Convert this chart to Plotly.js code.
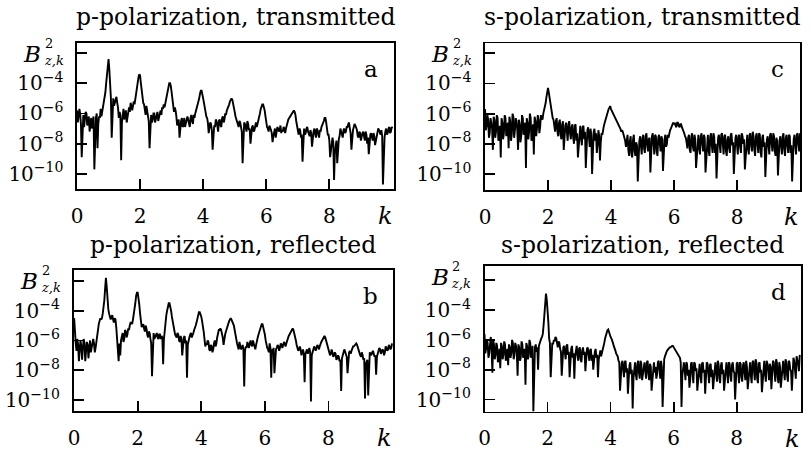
<!DOCTYPE html>
<html>
<head>
<meta charset="utf-8">
<script src="https://cdn.plot.ly/plotly-3.0.1.min.js"></script>
<style>
  html, body { margin: 0; padding: 0; background: #fff; }
  #chart { width: 811px; height: 456px; }
</style>
</head>
<body>
<div id="chart"></div>
<script>
// Spectra B^2_{z,k}, stored as decimal exponents (log10 of B^2).
// "...Exp" arrays hold the samples at k = 0, 0.05, …, 10;
// "...MidExp" arrays hold the samples in between, at k = 0.025, 0.075, …, 9.975.
const kStep = 0.05;

const pTransmittedExp = [
  -5.8,-6.2,-6.0,-8.9,-6.1,-6.4,-6.0,-6.5,-7.2,-6.3,
  -6.6,-9.7,-6.3,-8.3,-6.2,-5.7,-5.9,-5.4,-4.6,-3.3,
  -2.4,-4.2,-7.6,-5.0,-5.3,-4.9,-5.6,-5.9,-9.1,-6.0,
  -6.4,-5.8,-6.3,-5.6,-5.3,-5.8,-5.2,-5.0,-4.4,-3.6,
  -3.5,-4.6,-5.3,-5.8,-5.5,-6.2,-8.3,-6.1,-6.4,-6.0,
  -6.3,-5.9,-6.2,-5.8,-5.6,-5.4,-5.3,-4.9,-4.2,-4.0,
  -4.6,-5.4,-5.6,-6.2,-6.6,-7.6,-6.5,-6.9,-6.3,-6.6,
  -6.2,-6.7,-6.3,-6.5,-6.1,-6.0,-5.7,-5.3,-4.7,-4.5,
  -5.0,-5.6,-6.2,-6.6,-7.0,-6.7,-8.4,-6.8,-6.4,-6.9,
  -6.5,-6.8,-6.3,-6.6,-6.0,-5.8,-5.5,-5.2,-5.0,-5.3,
  -5.9,-6.4,-6.8,-6.5,-6.9,-9.3,-6.6,-7.0,-6.5,-7.1,
  -8.0,-6.9,-7.2,-6.7,-6.9,-6.4,-6.0,-5.5,-5.4,-5.8,
  -6.6,-7.0,-6.8,-7.1,-7.9,-7.2,-7.6,-6.9,-7.2,-6.8,
  -7.1,-6.9,-7.3,-6.7,-6.4,-6.2,-6.0,-5.8,-5.9,-6.5,
  -7.2,-7.0,-7.6,-9.2,-7.0,-7.3,-6.9,-7.4,-7.1,-8.2,
  -7.2,-7.5,-7.0,-7.4,-7.1,-6.9,-6.7,-6.3,-6.6,-7.4,
  -7.8,-8.4,-7.6,-10.4,-8.0,-9.3,-7.7,-7.0,-7.4,-7.1,
  -7.3,-6.9,-6.7,-7.0,-8.4,-7.1,-6.7,-7.0,-7.5,-7.2,
  -7.8,-7.3,-7.6,-7.2,-8.0,-8.7,-7.4,-7.7,-7.3,-8.1,
  -7.4,-7.0,-7.3,-7.1,-10.7,-7.6,-7.0,-7.3,-6.9,-7.2,
  -7.0
];
const pTransmittedMidExp = [
  -6.6,-5.7,-6.7,-6.5,-6.9,-5.9,-6.8,-6.2,-6.7,-7.0,
  -6.2,-6.9,-6.0,-6.7,-6.3,-6.2,-5.6,-5.1,-4.0,-2.8,
  -3.1,-5.0,-5.4,-5.5,-5.0,-5.3,-6.3,-6.1,-6.6,-5.7,
  -6.0,-6.6,-5.9,-5.9,-5.5,-5.5,-5.4,-4.8,-4.0,-3.4,
  -4.0,-5.0,-5.4,-6.1,-5.8,-6.5,-6.6,-6.6,-6.0,-6.6,
  -6.0,-6.5,-5.9,-6.1,-5.7,-5.6,-5.0,-4.6,-4.0,-4.2,
  -5.0,-5.9,-5.8,-6.8,-6.4,-6.9,-6.3,-6.8,-6.9,-6.4,
  -6.4,-6.9,-6.1,-6.7,-6.3,-5.8,-5.5,-5.0,-4.5,-4.7,
  -5.3,-6.0,-6.3,-7.3,-6.6,-7.1,-7.2,-6.9,-6.5,-7.2,
  -6.4,-6.9,-6.2,-6.4,-6.1,-5.7,-5.4,-5.1,-5.1,-5.6,
  -6.2,-6.5,-6.9,-6.6,-7.2,-6.9,-6.7,-7.2,-6.7,-7.0,
  -7.3,-6.8,-7.1,-6.6,-6.7,-6.2,-5.7,-5.4,-5.6,-6.2,
  -6.9,-7.2,-6.9,-7.3,-7.5,-7.0,-7.3,-7.0,-7.1,-7.3,
  -7.2,-7.0,-7.0,-6.6,-6.3,-6.1,-5.9,-5.8,-6.1,-6.9,
  -7.4,-7.1,-7.4,-7.5,-7.4,-7.0,-7.2,-7.5,-7.3,-7.6,
  -7.0,-7.6,-7.1,-7.6,-7.2,-6.8,-6.5,-6.3,-7.0,-7.4,
  -8.9,-7.9,-7.9,-8.6,-7.8,-8.2,-7.5,-7.2,-7.6,-7.0,
  -7.2,-6.9,-6.6,-7.3,-7.6,-6.9,-6.8,-7.1,-7.6,-7.3,
  -7.5,-7.2,-7.8,-7.4,-7.6,-7.9,-7.3,-7.8,-7.5,-7.8,
  -7.3,-7.1,-7.4,-7.5,-7.9,-7.2,-7.4,-7.0,-7.3,-6.9
];

const pReflectedExp = [
  -4.5,-6.2,-5.9,-7.4,-6.0,-7.3,-5.9,-7.4,-6.1,-7.2,
  -6.0,-6.5,-5.9,-6.8,-6.0,-5.0,-4.7,-4.6,-4.2,-3.3,
  -1.8,-3.3,-4.2,-4.6,-4.3,-4.8,-4.6,-5.9,-7.4,-7.0,
  -5.6,-6.1,-5.3,-5.8,-5.2,-5.0,-4.8,-4.6,-4.0,-3.0,
  -2.8,-3.6,-4.8,-5.0,-5.2,-5.0,-5.6,-5.4,-5.9,-8.4,
  -5.5,-5.8,-5.5,-5.9,-5.6,-5.7,-7.6,-5.2,-4.3,-3.7,
  -3.5,-4.0,-4.8,-5.3,-5.7,-5.5,-6.0,-5.7,-7.0,-5.8,
  -6.2,-8.5,-5.9,-5.6,-5.8,-5.5,-5.2,-4.8,-4.3,-4.1,
  -4.4,-5.0,-5.9,-6.2,-6.0,-6.6,-6.3,-6.8,-6.2,-6.4,
  -5.8,-5.3,-5.2,-5.5,-6.3,-5.6,-5.2,-4.9,-4.6,-4.6,
  -4.8,-5.3,-6.0,-6.4,-6.1,-6.6,-6.3,-9.1,-6.4,-6.1,
  -6.5,-6.0,-6.4,-6.2,-6.6,-5.9,-5.6,-5.2,-4.9,-5.1,
  -5.6,-6.3,-6.6,-6.2,-8.5,-6.8,-8.2,-6.6,-6.3,-6.7,
  -6.2,-6.5,-6.1,-6.4,-6.0,-5.7,-5.5,-5.3,-5.3,-5.7,
  -6.3,-6.7,-6.4,-7.0,-6.6,-8.8,-6.7,-6.9,-6.5,-10.1,
  -6.8,-6.4,-6.7,-6.3,-6.6,-6.2,-6.0,-5.8,-5.8,-6.2,
  -6.7,-7.0,-6.6,-7.1,-6.8,-7.3,-7.0,-7.4,-9.4,-6.9,
  -6.6,-7.0,-8.2,-6.8,-6.9,-6.5,-6.4,-6.2,-6.3,-6.7,
  -7.0,-6.8,-7.3,-9.9,-7.4,-9.7,-6.8,-7.0,-6.7,-7.1,
  -8.3,-6.8,-6.5,-6.9,-6.6,-7.0,-6.4,-6.7,-6.3,-6.6,
  -6.2
];
const pReflectedMidExp = [
  -5.6,-6.7,-6.3,-6.6,-6.4,-6.5,-6.2,-6.7,-6.3,-6.6,
  -6.8,-6.1,-6.2,-6.5,-5.5,-4.9,-4.5,-4.5,-3.8,-2.5,
  -2.4,-3.9,-4.5,-4.4,-4.6,-4.5,-5.1,-6.3,-6.2,-6.0,
  -5.5,-5.9,-5.4,-5.6,-5.3,-4.8,-4.9,-4.3,-3.5,-2.8,
  -3.1,-4.2,-5.1,-4.9,-5.4,-5.2,-5.8,-5.5,-6.2,-6.0,
  -5.9,-5.6,-5.8,-5.6,-5.9,-5.8,-5.9,-4.8,-4.0,-3.5,
  -3.7,-4.4,-5.0,-5.6,-5.8,-5.6,-6.1,-5.9,-6.1,-5.7,
  -6.0,-6.3,-5.8,-5.5,-5.7,-5.3,-5.0,-4.5,-4.1,-4.2,
  -4.7,-5.4,-6.4,-6.3,-6.1,-6.7,-6.4,-6.6,-6.0,-6.2,
  -5.5,-5.3,-5.3,-5.8,-5.8,-5.4,-5.0,-4.7,-4.5,-4.7,
  -5.0,-5.7,-6.2,-6.6,-6.3,-6.5,-6.6,-6.7,-6.5,-6.3,
  -6.2,-6.3,-6.0,-6.4,-6.3,-5.8,-5.4,-5.0,-4.9,-5.3,
  -6.0,-6.5,-6.8,-6.5,-6.6,-6.5,-6.8,-6.5,-6.4,-6.5,
  -6.3,-6.3,-6.2,-6.2,-5.9,-5.6,-5.4,-5.2,-5.5,-6.0,
  -6.5,-6.6,-6.6,-6.8,-6.9,-6.9,-6.6,-6.7,-6.8,-7.0,
  -6.6,-6.5,-6.5,-6.4,-6.4,-6.1,-5.9,-5.7,-6.0,-6.5,
  -6.8,-6.9,-6.8,-7.0,-6.9,-7.2,-7.1,-7.3,-7.2,-6.8,
  -6.8,-7.1,-7.0,-6.7,-6.7,-6.4,-6.3,-6.2,-6.5,-6.9,
  -7.1,-7.0,-7.2,-7.6,-7.3,-7.2,-6.9,-6.8,-6.9,-7.0,
  -7.1,-6.7,-6.6,-6.8,-6.7,-6.8,-6.5,-6.6,-6.4,-6.5
];

const sTransmittedExp = [
  -5.7,-6.8,-6.4,-7.3,-6.6,-8.4,-6.4,-7.2,-6.3,-7.5,
  -8.9,-6.6,-7.3,-6.3,-7.0,-8.3,-6.5,-7.4,-6.2,-7.1,
  -6.5,-8.4,-6.7,-7.5,-6.3,-7.0,-9.6,-6.6,-7.2,-6.3,
  -7.4,-8.7,-6.5,-7.0,-6.4,-6.9,-6.3,-6.0,-5.6,-4.9,
  -4.3,-5.0,-5.8,-6.3,-6.9,-6.5,-7.2,-6.6,-7.4,-6.7,
  -8.4,-6.8,-7.5,-6.7,-7.3,-6.9,-7.6,-6.8,-7.8,-8.9,
  -7.0,-7.6,-6.9,-7.7,-9.6,-7.1,-7.8,-7.0,-10.0,-7.2,
  -7.8,-8.6,-7.1,-9.1,-7.3,-7.0,-6.6,-6.2,-5.9,-5.6,
  -5.7,-5.9,-6.1,-6.4,-6.6,-6.8,-7.0,-7.1,-7.4,-7.8,
  -7.6,-8.4,-7.8,-8.7,-7.7,-8.5,-7.9,-10.5,-7.8,-8.4,
  -7.6,-8.3,-7.5,-8.1,-7.7,-9.9,-7.5,-8.2,-7.4,-8.5,
  -7.6,-8.0,-7.5,-9.8,-7.7,-8.2,-7.4,-7.3,-7.0,-6.8,
  -6.7,-6.8,-6.6,-6.8,-6.7,-6.9,-7.2,-7.5,-7.9,-7.6,
  -8.4,-7.5,-8.2,-7.4,-9.6,-7.6,-8.3,-7.5,-8.0,-7.4,
  -9.9,-7.6,-8.4,-7.5,-8.1,-7.3,-8.6,-10.3,-7.6,-8.2,
  -7.4,-8.0,-7.5,-8.5,-7.7,-8.3,-7.4,-8.1,-10.0,-7.6,
  -8.4,-7.5,-8.2,-7.3,-8.0,-9.7,-7.6,-8.3,-7.4,-8.1,
  -7.2,-8.4,-7.5,-8.0,-7.3,-8.6,-7.6,-8.2,-10.2,-7.7,
  -8.3,-7.4,-8.0,-7.3,-8.5,-7.6,-10.1,-7.8,-8.2,-7.5,
  -8.4,-7.6,-8.1,-7.4,-8.6,-10.5,-7.7,-8.3,-7.4,-8.0,
  -7.3
];
const sTransmittedMidExp = [
  -7.1,-6.1,-7.6,-6.3,-7.0,-6.2,-7.6,-6.1,-7.8,-6.8,
  -6.3,-7.7,-6.1,-7.5,-6.6,-6.2,-7.8,-6.0,-7.6,-6.3,
  -7.1,-6.4,-7.9,-6.1,-7.4,-6.6,-6.3,-7.7,-6.0,-7.8,
  -6.7,-6.2,-7.5,-6.1,-7.3,-6.1,-6.4,-5.8,-5.3,-4.5,
  -4.6,-5.4,-6.0,-6.4,-7.2,-6.3,-7.5,-6.4,-7.7,-6.5,
  -7.3,-6.6,-7.8,-6.5,-7.7,-6.7,-8.0,-6.7,-7.3,-7.9,
  -6.8,-8.1,-6.8,-7.2,-7.9,-6.9,-8.2,-7.4,-8.3,-7.0,
  -7.3,-8.0,-7.5,-7.9,-7.4,-6.8,-6.4,-6.0,-5.7,-5.5,
  -5.8,-6.0,-6.2,-6.5,-6.7,-6.9,-7.2,-7.2,-7.5,-8.2,
  -7.4,-8.8,-7.5,-8.9,-7.4,-8.8,-8.1,-8.6,-7.5,-8.7,
  -7.4,-8.6,-7.3,-8.5,-7.6,-8.4,-7.3,-8.7,-7.5,-8.8,
  -7.4,-8.5,-7.7,-8.4,-7.4,-8.0,-7.6,-7.1,-6.9,-6.6,
  -6.6,-6.9,-6.6,-6.9,-6.7,-7.0,-7.3,-7.6,-8.3,-7.4,
  -8.6,-7.3,-8.5,-7.7,-8.6,-7.4,-8.7,-7.3,-8.5,-7.6,
  -8.7,-7.4,-8.8,-7.3,-8.6,-7.5,-8.0,-8.5,-7.4,-8.6,
  -7.3,-8.7,-7.4,-8.8,-7.5,-8.6,-7.3,-7.9,-8.5,-7.4,
  -8.7,-7.4,-8.6,-7.5,-7.7,-8.6,-7.4,-8.7,-7.3,-8.5,
  -7.5,-8.8,-7.3,-8.6,-7.4,-8.9,-7.4,-7.9,-8.6,-7.5,
  -8.7,-7.3,-8.5,-7.5,-8.8,-7.8,-8.6,-7.5,-8.7,-7.3,
  -8.8,-7.4,-8.6,-7.5,-8.1,-8.6,-7.4,-8.7,-7.3,-8.5
];

const sReflectedExp = [
  -5.6,-6.6,-6.2,-6.9,-5.8,-8.2,-6.3,-7.0,-6.4,-7.2,
  -7.9,-6.4,-7.0,-6.3,-7.1,-7.7,-6.5,-6.9,-6.2,-7.0,
  -6.4,-8.4,-6.5,-7.2,-6.3,-6.8,-9.0,-6.4,-7.1,-6.2,
  -6.9,-10.8,-6.5,-6.8,-8.0,-6.2,-5.9,-5.6,-4.2,-2.9,
  -3.9,-5.9,-8.5,-6.2,-6.0,-5.8,-6.3,-6.1,-6.6,-8.4,
  -6.5,-7.1,-6.4,-7.0,-8.5,-6.6,-7.2,-8.6,-6.5,-7.1,
  -6.6,-7.3,-6.7,-7.0,-8.1,-6.6,-7.2,-6.7,-7.4,-8.0,
  -6.8,-7.2,-8.5,-6.9,-7.1,-6.6,-6.2,-5.7,-5.35,-5.5,
  -5.8,-6.0,-6.4,-6.7,-7.0,-7.4,-9.4,-7.6,-8.1,-7.5,
  -8.2,-9.6,-7.7,-8.3,-10.6,-7.8,-8.3,-7.6,-8.2,-7.4,
  -8.7,-7.7,-8.1,-7.5,-8.3,-7.6,-9.4,-7.7,-8.2,-8.6,
  -7.5,-8.0,-7.4,-10.5,-7.3,-6.9,-6.7,-6.6,-6.5,-6.4,
  -6.5,-6.6,-6.8,-7.0,-7.2,-10.5,-7.6,-8.0,-7.5,-8.4,
  -9.2,-7.6,-8.3,-7.5,-8.1,-9.4,-7.7,-8.4,-7.6,-8.2,
  -9.6,-7.5,-8.3,-7.7,-8.5,-9.3,-7.6,-8.2,-7.4,-8.6,
  -7.7,-8.3,-9.4,-7.6,-8.2,-7.5,-8.4,-7.7,-8.1,-10.0,
  -7.6,-8.3,-7.5,-8.5,-7.7,-8.2,-7.4,-9.3,-7.6,-8.4,
  -7.5,-8.1,-7.3,-8.6,-7.6,-8.2,-9.5,-7.5,-8.3,-7.4,
  -8.0,-7.6,-9.3,-7.4,-8.2,-7.3,-8.5,-7.5,-9.2,-7.6,
  -8.1,-7.3,-8.4,-7.4,-8.0,-9.4,-7.2,-8.0,-7.1,-7.6,
  -7.0
];
const sReflectedMidExp = [
  -6.9,-6.0,-7.2,-6.3,-6.6,-6.0,-7.3,-6.2,-7.5,-6.6,
  -6.2,-7.3,-6.1,-7.4,-6.6,-6.3,-7.2,-6.0,-7.3,-6.2,
  -6.9,-6.3,-7.4,-6.1,-7.2,-6.6,-6.2,-7.3,-6.0,-7.2,
  -6.4,-7.0,-6.3,-6.5,-6.4,-6.1,-5.8,-5.0,-3.5,-3.3,
  -4.8,-6.2,-6.6,-6.3,-6.1,-5.9,-6.5,-6.2,-6.8,-6.9,
  -6.4,-7.3,-6.3,-6.8,-7.0,-6.4,-6.9,-7.1,-6.4,-7.4,
  -6.5,-7.5,-6.5,-6.8,-7.2,-6.5,-7.4,-6.6,-7.0,-7.3,
  -6.6,-7.0,-7.3,-6.7,-6.9,-6.4,-5.9,-5.5,-5.3,-5.6,
  -5.9,-6.2,-6.5,-6.9,-7.1,-7.5,-7.9,-7.4,-8.5,-7.4,
  -7.9,-8.4,-7.5,-8.0,-8.6,-7.5,-8.7,-7.4,-8.6,-7.6,
  -8.3,-7.5,-8.6,-7.4,-8.7,-7.8,-8.5,-7.5,-7.8,-8.3,
  -7.4,-8.6,-7.8,-8.2,-7.1,-6.8,-6.6,-6.5,-6.4,-6.4,
  -6.5,-6.7,-6.9,-7.1,-7.5,-8.4,-7.5,-8.7,-7.6,-8.0,
  -8.7,-7.5,-8.9,-7.6,-7.9,-8.6,-7.6,-8.9,-7.5,-8.0,
  -8.6,-7.6,-8.9,-7.6,-8.0,-8.7,-7.5,-8.8,-7.6,-8.9,
  -7.5,-8.0,-8.7,-7.5,-8.9,-7.6,-8.8,-7.5,-8.2,-8.6,
  -7.5,-8.9,-7.6,-8.8,-7.5,-8.7,-7.8,-8.6,-7.5,-8.9,
  -7.4,-8.7,-7.5,-8.9,-7.5,-8.0,-8.6,-7.4,-8.8,-7.6,
  -8.7,-7.8,-8.5,-7.5,-8.8,-7.5,-8.9,-7.8,-8.6,-7.4,
  -8.7,-7.5,-8.8,-7.5,-8.1,-8.4,-7.4,-8.6,-7.3,-8.1
];

const panelTitles = [
  'p-polarization, transmitted',
  's-polarization, transmitted',
  'p-polarization, reflected',
  's-polarization, reflected'
];
const panelLetters = ['a', 'c', 'b', 'd'];

const xTickVals = [0, 2, 4, 6, 8];
const xTickText = ['0', '2', '4', '6', '8'];
const yTickExps = [-2, -4, -6, -8, -10];
const yTickText = ['', '10<sup>\u22124</sup>', '10<sup>\u22126</sup>', '10<sup>\u22128</sup>', '10<sup>\u221210</sup>'];

// ---- drawing ----
const W = 811, H = 456;
const SERIF = 'DejaVu Serif';
const px = v => v / W;
const py = v => 1 - v / H;

// merge the two sample sets into one k-ordered series
function series(mainExp, midExp) {
  const x = [], y = [];
  mainExp.forEach((e, j) => {
    x.push(+(j * kStep).toFixed(3));
    y.push(Math.pow(10, e));
    if (j < midExp.length) {
      x.push(+((j + 0.5) * kStep).toFixed(3));
      y.push(Math.pow(10, midExp[j]));
    }
  });
  return { x, y };
}

// plot boxes in pixel coordinates: [left, right, top, bottom], axis ranges
const panels = [
  { main: pTransmittedExp, mid: pTransmittedMidExp, box: [77, 394, 43, 189],          xr: [0, 10.05],     yr: [-11.0, -1.34] },
  { main: sTransmittedExp, mid: sTransmittedMidExp, box: [485, 800, 43.3, 190],       xr: [0, 10.0],      yr: [-11.06, -1.34] },
  { main: pReflectedExp,   mid: pReflectedMidExp,   box: [73.5, 393.3, 269.6, 411.3], xr: [-0.02, 10.04], yr: [-10.76, -1.24] },
  { main: sReflectedExp,   mid: sReflectedMidExp,   box: [484.5, 801, 265.8, 411.5],  xr: [0, 10.04],     yr: [-10.8, -1.03] }
];

const traces = [];
const layout = {
  width: W, height: H,
  margin: { l: 0, r: 0, t: 0, b: 0 },
  paper_bgcolor: '#fff', plot_bgcolor: '#fff',
  showlegend: false,
  font: { family: SERIF, color: '#000' },
  annotations: []
};

panels.forEach((p, i) => {
  const n = i + 1;
  const xa = n === 1 ? 'x' : 'x' + n;
  const ya = n === 1 ? 'y' : 'y' + n;
  const [l, r, t, b] = p.box;
  const s = series(p.main, p.mid);

  traces.push({
    type: 'scatter', mode: 'lines',
    x: s.x, y: s.y,
    xaxis: xa, yaxis: ya,
    line: { color: '#000', width: 1.9 },
    hoverinfo: 'skip'
  });

  const common = {
    showline: true, mirror: true, linecolor: '#000', linewidth: 1.6,
    ticks: 'inside', ticklen: 10, tickwidth: 1.8, tickcolor: '#000',
    showgrid: false, zeroline: false, fixedrange: true,
    tickfont: { family: SERIF, size: 20, color: '#000' }
  };
  layout[xa === 'x' ? 'xaxis' : 'xaxis' + n] = Object.assign({}, common, {
    domain: [px(l), px(r)], anchor: ya, range: p.xr,
    tickmode: 'array', tickvals: xTickVals, ticktext: xTickText,
    ticklabelstandoff: 8
  });
  layout[ya === 'y' ? 'yaxis' : 'yaxis' + n] = Object.assign({}, common, {
    domain: [py(b), py(t)], anchor: xa, type: 'log', range: p.yr,
    tickmode: 'array', tickvals: yTickExps.map(e => Math.pow(10, e)), ticktext: yTickText,
    ticklabelstandoff: 8
  });

  const cx = (l + r) / 2;
  const rowTop = t < 100 ? 0 : 228;
  // panel title
  layout.annotations.push({
    xref: 'paper', yref: 'paper', x: px(cx), y: py(rowTop + 17),
    xanchor: 'center', yanchor: 'middle', showarrow: false,
    text: panelTitles[i], font: { family: SERIF, size: 23.5, color: '#000' }
  });
  // panel letter
  layout.annotations.push({
    xref: 'paper', yref: 'paper', x: px(r - 23), y: py(t + 26),
    xanchor: 'center', yanchor: 'middle', showarrow: false,
    text: panelLetters[i], font: { family: SERIF, size: 23, color: '#000' }
  });
  // axis symbol B^2_{z,k}: the letter, then the stacked exponent / indices
  const bx = l - 45, by = t + 11;
  layout.annotations.push({
    xref: 'paper', yref: 'paper', x: px(bx), y: py(by),
    xanchor: 'center', yanchor: 'middle', showarrow: false,
    text: '<i>B</i>', font: { family: SERIF, size: 23, color: '#000' }
  });
  layout.annotations.push({
    xref: 'paper', yref: 'paper', x: px(bx + 10), y: py(by - 2),
    xanchor: 'left', yanchor: 'middle', align: 'left', showarrow: false,
    text: '2<br><i>z,k</i>', font: { family: SERIF, size: 13, color: '#000' }
  });
  // k label at the end of the horizontal axis
  layout.annotations.push({
    xref: 'paper', yref: 'paper', x: px(r - 9), y: py(b + 27),
    xanchor: 'center', yanchor: 'middle', showarrow: false,
    text: '<i>k</i>', font: { family: SERIF, size: 24, color: '#000' }
  });
});

Plotly.newPlot('chart', traces, layout, { staticPlot: true, displayModeBar: false });
</script>
</body>
</html>
